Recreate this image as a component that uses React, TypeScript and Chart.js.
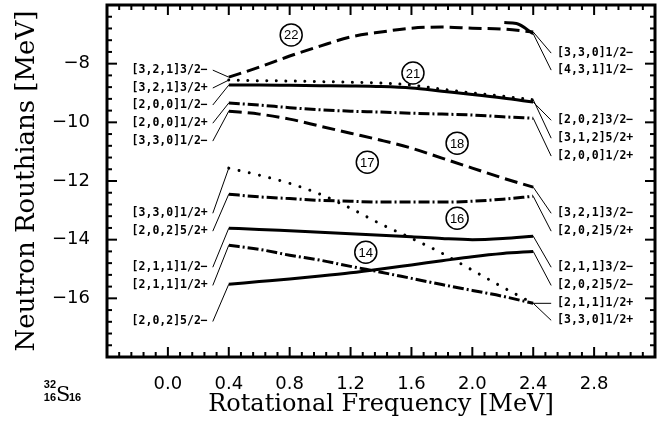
import { useEffect, useRef } from "react";
import { Chart, registerables } from "chart.js";

Chart.register(...registerables);

// Rotational frequency grid (MeV) shared by the Routhian curves
const freq = [0.4, 0.6, 0.8, 1.0, 1.2, 1.4, 1.6, 1.8, 2.0, 2.2, 2.4];

// Neutron Routhians (MeV) along the frequency grid
const level22 = [-8.46, -8.12, -7.74, -7.4, -7.09, -6.92, -6.79, -6.75, -6.79, -6.82, -6.92];
const level21Dotted = [-8.56, -8.58, -8.59, -8.61, -8.63, -8.66, -8.73, -8.87, -9.0, -9.11, -9.23];
const level21 = [-8.73, -8.73, -8.74, -8.75, -8.76, -8.78, -8.83, -8.94, -9.05, -9.17, -9.31];
const level20 = [-9.34, -9.41, -9.5, -9.57, -9.62, -9.65, -9.69, -9.72, -9.75, -9.81, -9.86];
const level18 = [-9.62, -9.72, -9.89, -10.13, -10.37, -10.61, -10.88, -11.22, -11.56, -11.9, -12.21];
const level17 = [-11.56, -11.8, -12.08, -12.45, -12.93, -13.47, -13.95, -14.46, -15.04, -15.62, -16.17];
const level17b = [-12.45, -12.54, -12.6, -12.66, -12.69, -12.72, -12.72, -12.72, -12.69, -12.62, -12.52];
const level16 = [-13.61, -13.65, -13.7, -13.75, -13.8, -13.85, -13.9, -13.96, -14.0, -13.96, -13.88];
const level14 = [-14.19, -14.33, -14.53, -14.7, -14.91, -15.11, -15.32, -15.53, -15.73, -15.93, -16.17];
const level13 = [-15.52, -15.43, -15.34, -15.24, -15.13, -15.0, -14.86, -14.72, -14.58, -14.47, -14.4];

// Short branch near the top right
const shortFreq = [2.21, 2.29, 2.4];
const shortLevel = [-6.6, -6.63, -6.98];

// Axis ticks
const xTickValues = [0, 0.4, 0.8, 1.2, 1.6, 2.0, 2.4, 2.8];
const xTickLabels = ["0.0", "0.4", "0.8", "1.2", "1.6", "2.0", "2.4", "2.8"];
const yTickValues = [-8, -10, -12, -14, -16];
const yTickLabels = ["\u22128", "\u221210", "\u221212", "\u221214", "\u221216"];

// Nilsson labels at the low-frequency end (curve index for each)
const leftLabels = [
  "[3,2,1]3/2\u2212", "[3,2,1]3/2+", "[2,0,0]1/2\u2212", "[2,0,0]1/2+", "[3,3,0]1/2\u2212",
  "[3,3,0]1/2+", "[2,0,2]5/2+", "[2,1,1]1/2\u2212", "[2,1,1]1/2+", "[2,0,2]5/2\u2212",
];
const leftLabelEnergy = [-8.22, -8.83, -9.41, -10.03, -10.64, -13.1, -13.71, -14.94, -15.56, -16.79];
const leftLabelCurve = [0, 1, 2, 3, 4, 5, 6, 7, 8, 9];

// Nilsson labels at the high-frequency end
const rightLabels = [
  "[3,3,0]1/2\u2212", "[4,3,1]1/2\u2212", "[2,0,2]3/2\u2212", "[3,1,2]5/2+", "[2,0,0]1/2+",
  "[3,2,1]3/2\u2212", "[2,0,2]5/2+", "[2,1,1]3/2\u2212", "[2,0,2]5/2\u2212", "[2,1,1]1/2+", "[3,3,0]1/2+",
];
const rightLabelEnergy = [-7.64, -8.22, -9.93, -10.54, -11.15, -13.1, -13.71, -14.94, -15.56, -16.17, -16.75];
const rightLabelCurve = [0, 10, 2, 1, 3, 4, 6, 7, 9, 8, 5];

// Circled level numbers
const levelTags = ["22", "21", "18", "17", "16", "14"];
const tagFreq = [0.81, 1.61, 1.9, 1.31, 1.9, 1.3];
const tagEnergy = [-7.02, -8.32, -10.71, -11.36, -13.27, -14.43];

const DASH = [13, 6];
const DASH_DOT = [11, 3, 2, 3];

const curves = [
  { x: freq, y: level22, dash: DASH, cap: "butt" },
  { x: freq, y: level21Dotted, dash: [0.01, 9.5], cap: "round" },
  { x: freq, y: level21, dash: [], cap: "butt" },
  { x: freq, y: level20, dash: DASH_DOT, cap: "butt" },
  { x: freq, y: level18, dash: DASH, cap: "butt" },
  { x: freq, y: level17, dash: [0.01, 10.5], cap: "round" },
  { x: freq, y: level17b, dash: DASH_DOT, cap: "butt" },
  { x: freq, y: level16, dash: [], cap: "butt" },
  { x: freq, y: level14, dash: DASH_DOT, cap: "butt" },
  { x: freq, y: level13, dash: [], cap: "butt" },
  { x: shortFreq, y: shortLevel, dash: [], cap: "butt" },
];

const LABEL_FONT = "bold 11.5px 'DejaVu Sans Mono'";

const decorations = {
  id: "decorations",
  afterDatasetsDraw(chart: any) {
    const { ctx, chartArea: a, scales } = chart;
    const xs = scales.x;
    const ys = scales.y;
    const px = (v: number) => xs.getPixelForValue(v);
    const py = (v: number) => ys.getPixelForValue(v);
    const seg = (x1: number, y1: number, x2: number, y2: number) => {
      ctx.beginPath();
      ctx.moveTo(x1, y1);
      ctx.lineTo(x2, y2);
      ctx.stroke();
    };
    ctx.save();
    ctx.strokeStyle = "#000";
    ctx.fillStyle = "#000";
    ctx.setLineDash([]);

    // inward tick marks on all four sides
    ctx.lineWidth = 2;
    for (let i = 0; i <= 45; i++) {
      const p = px(-0.4 + i * 0.08);
      const len = i % 5 === 0 ? 10 : 5;
      seg(p, a.bottom, p, a.bottom - len);
      seg(p, a.top, p, a.top + len);
    }
    for (let i = 0; i <= 30; i++) {
      const p = py(-18 + i * 0.4);
      const len = i % 5 === 0 ? 10 : 5;
      seg(a.left, p, a.left + len, p);
      seg(a.right, p, a.right - len, p);
    }

    // frame
    ctx.lineWidth = 3;
    ctx.strokeRect(a.left, a.top, a.right - a.left, a.bottom - a.top);

    // labels with leader lines
    ctx.lineWidth = 1;
    ctx.font = LABEL_FONT;
    ctx.textBaseline = "middle";
    ctx.textAlign = "right";
    leftLabels.forEach((t, i) => {
      const c = curves[leftLabelCurve[i]];
      const ly = py(leftLabelEnergy[i]);
      seg(px(0.295), ly, px(c.x[0]), py(c.y[0]));
      ctx.fillText(t, px(0.262), ly);
    });
    ctx.textAlign = "left";
    rightLabels.forEach((t, i) => {
      const c = curves[rightLabelCurve[i]];
      const n = c.x.length - 1;
      const ly = py(rightLabelEnergy[i]);
      seg(px(c.x[n]), py(c.y[n]), px(2.518), ly);
      ctx.fillText(t, px(2.557), ly);
    });

    // circled level numbers
    ctx.textAlign = "center";
    ctx.font = "13px 'Liberation Sans'";
    ctx.lineWidth = 1.5;
    levelTags.forEach((t, i) => {
      const cx = px(tagFreq[i]);
      const cy = py(tagEnergy[i]);
      ctx.fillStyle = "#fff";
      ctx.beginPath();
      ctx.arc(cx, cy, 11, 0, Math.PI * 2);
      ctx.fill();
      ctx.stroke();
      ctx.fillStyle = "#000";
      ctx.fillText(t, cx, cy + 1);
    });

    // axis titles
    ctx.textBaseline = "alphabetic";
    ctx.textAlign = "center";
    ctx.font = "24px 'DejaVu Serif'";
    ctx.fillText("Rotational Frequency [MeV]", (a.left + a.right) / 2, 411);
    ctx.save();
    ctx.font = "26px 'DejaVu Serif'";
    ctx.translate(34, (a.top + a.bottom) / 2);
    ctx.rotate(-Math.PI / 2);
    ctx.fillText("Neutron Routhians [MeV]", 0, 0);
    ctx.restore();

    // nucleus
    ctx.font = "bold 11px 'Liberation Sans'";
    ctx.textAlign = "right";
    ctx.fillText("32", 56, 388);
    ctx.fillText("16", 56, 401);
    ctx.font = "21px 'DejaVu Serif'";
    ctx.textAlign = "left";
    ctx.fillText("S", 56, 401);
    ctx.font = "bold 11px 'Liberation Sans'";
    ctx.fillText("16", 69, 401);
    ctx.restore();
  },
};

const noEdgePadding = (s: any) => {
  s.paddingTop = 0;
  s.paddingBottom = 0;
  s.paddingLeft = 0;
  s.paddingRight = 0;
};

export default function App() {
  const canvasRef = useRef<HTMLCanvasElement | null>(null);

  useEffect(() => {
    const canvas = canvasRef.current;
    if (!canvas) return;
    const chart = new Chart(canvas, {
      type: "line",
      data: {
        datasets: curves.map((c) => ({
          data: c.x.map((x, i) => ({ x, y: c.y[i] })),
          borderColor: "#000",
          borderWidth: 3,
          borderDash: c.dash,
          borderCapStyle: c.cap as CanvasLineCap,
          cubicInterpolationMode: "monotone" as const,
          pointRadius: 0,
          fill: false,
        })),
      },
      options: {
        animation: false,
        responsive: false,
        events: [],
        layout: { autoPadding: false, padding: { top: 5, right: 17, left: 0, bottom: 0 } },
        plugins: { legend: { display: false }, tooltip: { enabled: false } },
        scales: {
          x: {
            type: "linear",
            min: -0.4,
            max: 3.2,
            grid: { display: false, drawTicks: false },
            border: { display: false },
            afterBuildTicks: (s: any) => {
              s.ticks = xTickValues.map((value) => ({ value }));
            },
            afterFit: (s: any) => {
              s.height = 67;
              noEdgePadding(s);
            },
            ticks: {
              autoSkip: false,
              maxRotation: 0,
              padding: 17,
              color: "#000",
              font: { family: "'DejaVu Sans'", size: 18 },
              callback: (_v: any, i: number) => xTickLabels[i],
            },
          },
          y: {
            type: "linear",
            min: -18,
            max: -6,
            grid: { display: false, drawTicks: false },
            border: { display: false },
            afterBuildTicks: (s: any) => {
              s.ticks = yTickValues.map((value) => ({ value }));
            },
            afterFit: (s: any) => {
              s.width = 107;
              noEdgePadding(s);
            },
            ticks: {
              autoSkip: false,
              padding: 17,
              color: "#000",
              font: { family: "'DejaVu Sans'", size: 18 },
              callback: (_v: any, i: number) => yTickLabels[i],
            },
          },
        },
      },
      plugins: [decorations],
    });
    return () => chart.destroy();
  }, []);

  return (
    <div style={{ position: "fixed", left: 0, top: 0, width: 672, height: 424, background: "#fff" }}>
      <canvas ref={canvasRef} width={672} height={424} />
    </div>
  );
}
